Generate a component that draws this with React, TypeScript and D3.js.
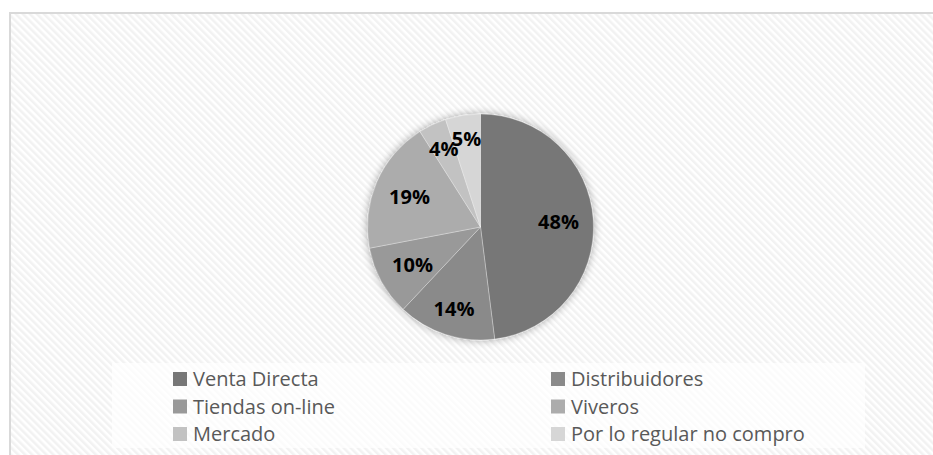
import React from 'react';
import * as d3 from 'd3';

const categories = ['Venta Directa', 'Distribuidores', 'Tiendas on-line', 'Viveros', 'Mercado', 'Por lo regular no compro'];
const shares = [48, 14, 10, 19, 4, 5];
const colors = ['#777777', '#8a8a8a', '#999999', '#acacac', '#c2c2c2', '#d6d6d6'];

const width = 933;
const height = 455;

const App = () => {
  // pie geometry
  const cx = 480.5;
  const cy = 227;
  const R = 113;

  const pie = d3.pie<number>().sort(null).value(d => d);
  const arcs = pie(shares);
  const arc = d3.arc<d3.PieArcDatum<number>>().innerRadius(0).outerRadius(R);

  // labels: pushed out until the text box sits a fixed gap inside the rim
  const fontSize = 20;
  const labelPos = (a: d3.PieArcDatum<number>, text: string) => {
    const mid = (a.startAngle + a.endAngle) / 2;
    const s = Math.sin(mid);
    const c = -Math.cos(mid);
    const hw = text.length * fontSize * 0.34;
    const hh = fontSize * 0.37;
    const r = R - 14 - (hw * Math.abs(s) + hh * Math.abs(c));
    return [r * s, r * c];
  };

  // legend layout, two columns
  const legendCols = d3.scaleOrdinal<number, number>().domain([0, 1]).range([173, 551]);
  const legendRows = d3.scaleLinear().domain([0, 2]).range([372, 427]);

  return (
    <svg width={width} height={height} style={{ position: 'absolute', left: 0, top: 0 }}>
      <defs>
        <pattern id="diag" width="5" height="5" patternUnits="userSpaceOnUse" patternTransform="rotate(-45)">
          <rect width="5" height="5" fill="#ffffff" />
          <rect width="2.5" height="5" fill="#f2f2f2" />
        </pattern>
        <filter id="glow" x="-30%" y="-30%" width="160%" height="160%">
          <feGaussianBlur in="SourceAlpha" stdDeviation="4" />
          <feComponentTransfer>
            <feFuncA type="linear" slope="0.35" />
          </feComponentTransfer>
          <feMerge>
            <feMergeNode />
            <feMergeNode in="SourceGraphic" />
          </feMerge>
        </filter>
      </defs>
      <rect x={0} y={0} width={width} height={height} fill="#ffffff" />
      <rect x={10} y={13} width={960} height={480} fill="url(#diag)" stroke="#d9d9d9" strokeWidth={2} />

      <g transform={`translate(${cx},${cy})`}>
        <g filter="url(#glow)">
          {arcs.map((a, i) => (
            <path key={i} d={arc(a) || ''} fill={colors[i]} stroke="#ffffff" strokeOpacity={0.5} strokeWidth={0.6} />
          ))}
        </g>
        {arcs.map((a, i) => {
          const t = `${shares[i]}%`;
          const [x, y] = labelPos(a, t);
          return (
            <text key={i} x={x} y={y} dy="0.36em" textAnchor="middle"
              fontFamily="'Open Sans', sans-serif" fontWeight="bold" fontSize={fontSize} fill="#000000">
              {t}
            </text>
          );
        })}
      </g>

      <rect x={112} y={363} width={753} height={85} fill="#ffffff" fillOpacity={0.7} />
      {categories.map((c, i) => {
        const col = i % 2;
        const row = Math.floor(i / 2);
        const x = legendCols(col);
        const y = legendRows(row);
        return (
          <g key={c} transform={`translate(${x},${y})`}>
            <rect width={14} height={14} fill={colors[i]} />
            <text x={20} y={14} fontFamily="'Open Sans', sans-serif" fontSize={20} fill="#595959">{c}</text>
          </g>
        );
      })}
    </svg>
  );
};

export default App;
